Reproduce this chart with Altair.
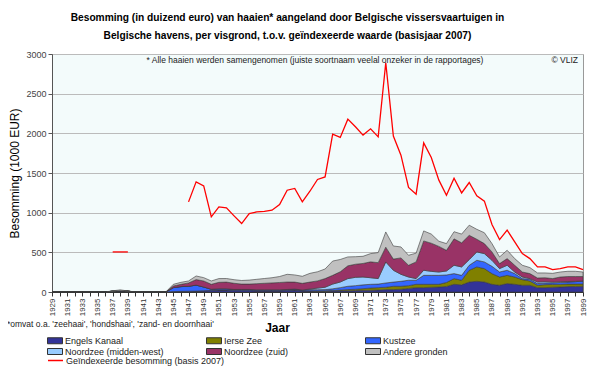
import altair as alt
import pandas as pd

years = list(range(1929, 2000))

categories = ["Engels Kanaal", "Ierse Zee", "Kustzee",
              "Noordzee (midden-west)", "Noordzee (zuid)", "Andere gronden"]
colors = ["#333399", "#808000", "#3366FF", "#99CCFF", "#993366", "#C0C0C0"]

engels_kanaal = [0] * 8 + [10, 15, 10] + [0] * 5 + [
    5, 8, 10, 12, 15, 20, 25, 25, 20, 20, 20, 15, 15, 15, 15, 20, 25, 15, 12, 10, 10,
    12, 15, 15, 18, 21, 22, 25, 30, 30, 35, 45, 55, 55, 60, 63, 70, 97, 90, 126, 135,
    126, 97, 85, 106, 97, 85, 85, 55, 55, 60, 63, 68, 70, 72]
ierse_zee = [0] * 16 + [0] * 18 + [3, 4, 5] + [
    8, 10, 15, 17, 21, 28, 30, 30, 42, 37, 35, 42, 42, 37, 34, 50, 72, 58, 148, 181,
    169, 135, 104, 104, 92, 71, 54, 30, 38, 35, 34, 32, 30, 29]
kustzee = [0] * 16 + [
    50, 60, 62, 75, 48, 15, 15, 15, 12, 12, 12, 12, 12, 12, 12, 12, 12, 10, 15, 15, 15,
    20, 30, 42, 45, 48, 47, 45, 54, 53, 63, 68, 51, 113, 113, 113, 95, 63, 62, 63, 84,
    84, 92, 63, 64, 43, 13, 21, 21, 21, 20, 23, 25, 30, 38]
noordzee_mw = [0] * 16 + [0] * 18 + [8, 20, 30] + [
    60, 71, 97, 105, 99, 83, 69, 265, 149, 88, 41, 21, 64, 50, 42, 50, 105, 106, 71, 105,
    105, 76, 43, 63, 20, 20, 9, 20, 16, 10, 10, 7, 5, 1]
noordzee_zuid = [0] * 16 + [
    21, 29, 42, 69, 76, 62, 82, 85, 78, 68, 68, 78, 83, 88, 93, 94, 88, 84, 87, 91, 109,
    110, 129, 161, 165, 171, 200, 201, 186, 141, 207, 148, 210, 370, 355, 323, 260, 333, 304, 307, 160,
    126, 105, 63, 84, 85, 63, 63, 51, 50, 44, 59, 63, 60, 55]
andere_gronden = [0] * 8 + [5, 12, 3] + [0] * 5 + [
    21, 25, 25, 46, 42, 42, 47, 45, 45, 45, 50, 55, 60, 65, 75, 97, 90, 89, 110, 115, 121,
    180, 155, 112, 95, 90, 104, 127, 192, 165, 138, 126, 111, 126, 115, 65, 85, 90, 110, 127, 125,
    137, 105, 84, 105, 84, 85, 76, 63, 60, 66, 63, 66, 66, 57]

series = [engels_kanaal, ierse_zee, kustzee, noordzee_mw, noordzee_zuid, andere_gronden]

red_label = "Geïndexeerde besomming (basis 2007)"
red_years_a = [1937, 1938, 1939]
red_vals_a = [505, 505, 505]
red_years_b = list(range(1947, 2000))
red_vals_b = [1136, 1388, 1338, 947, 1073, 1060, 960, 863, 989, 1010,
              1015, 1031, 1103, 1283, 1305, 1136, 1270, 1418, 1451, 1990,
              1948, 2179, 2083, 1978, 2057, 1956, 2890, 1965, 1725, 1317,
              1233, 1880, 1696, 1410, 1220, 1435, 1249, 1380, 1212, 1145,
              850, 661, 779, 631, 485, 421, 316, 316, 283, 295,
              316, 316, 283]

y_ticks = [0, 500, 1000, 1500, 2000, 2500, 3000]

title_lines = ["Besomming (in duizend euro) van haaien* aangeland door Belgische vissersvaartuigen in",
               "Belgische havens, per visgrond, t.o.v. geïndexeerde waarde (basisjaar 2007)"]
note_top = "* Alle haaien werden samengenomen (juiste soortnaam veelal onzeker in de rapportages)"
note_copy = "© VLIZ"
note_foot = "*omvat o.a. 'zeehaai', 'hondshaai', 'zand- en doornhaai'"

rows = []
for k, (cat, vals) in enumerate(zip(categories, series)):
    for y, v in zip(years, vals):
        rows.append({"Jaar": y, "cat": cat, "val": v, "ord": k})
df = pd.DataFrame(rows)

red_rows = [{"Jaar": y, "val": v, "seg": "a", "serie": red_label} for y, v in zip(red_years_a, red_vals_a)]
red_rows += [{"Jaar": y, "val": v, "seg": "b", "serie": red_label} for y, v in zip(red_years_b, red_vals_b)]
df_red = pd.DataFrame(red_rows)

FONT = "Liberation Sans"

xscale = alt.Scale(domain=[1929, 1999], nice=False, zero=False)
yscale = alt.Scale(domain=[0, 3000], nice=False)

xaxis = alt.Axis(values=years, format="d",
                 labelExpr="datum.value % 2 == 1 ? datum.label : ''",
                 labelAngle=270, labelFontSize=8, labelOverlap=False, labelFlush=False,
                 labelPadding=2, labelColor="#333333", labelBound=False,
                 tickSize=4, tickColor="#333333", domainColor="#333333",
                 grid=False, title="Jaar", titleFontSize=12, titleFontWeight="bold",
                 titleX=225, titleY=35, titleBaseline="middle", titleColor="#000000")
yaxis = alt.Axis(values=y_ticks, format="d", labelOverlap=False, labelFlush=False,
                 labelFontSize=9, labelColor="#444444", tickSize=4,
                 tickColor="#555555", domainColor="#555555",
                 gridColor="#BBBBBB", gridWidth=1,
                 title="Besomming (1000 EUR)", titleFontSize=12, titleFontWeight="normal",
                 titleColor="#000000", titlePadding=4)

areas = alt.Chart(df).mark_area(stroke="#3a3a3a", strokeWidth=0.6, interpolate="linear").encode(
    x=alt.X("Jaar:Q", scale=xscale, axis=xaxis),
    y=alt.Y("sum(val):Q", stack="zero", scale=yscale, axis=yaxis),
    fill=alt.Fill("cat:N", sort=categories,
                  scale=alt.Scale(domain=categories, range=colors),
                  legend=alt.Legend(orient="none", legendX=-2.5, legendY=281, columns=3,
                                    title=None, direction="horizontal",
                                    symbolType="M-1.5,-0.6H1.5V0.6H-1.5Z", symbolSize=100,
                                    symbolStrokeColor="#333333", symbolStrokeWidth=1,
                                    symbolOpacity=1,
                                    labelFont=FONT, labelFontSize=9, labelColor="#222222",
                                    labelOffset=4.5, columnPadding=40, rowPadding=0,
                                    gridAlign="all", labelLimit=200)),
    order=alt.Order("ord:Q", sort="ascending"),
)

line = alt.Chart(df_red).mark_line(strokeWidth=1.3).encode(
    x=alt.X("Jaar:Q", scale=xscale, axis=xaxis),
    y=alt.Y("val:Q", scale=yscale, axis=yaxis),
    detail="seg:N",
    stroke=alt.Stroke("serie:N", scale=alt.Scale(domain=[red_label], range=["#FF0000"]),
                      legend=alt.Legend(orient="none", legendX=-5, legendY=298, title=None,
                                        symbolType="stroke", symbolSize=225,
                                        symbolStrokeWidth=1.5,
                                        labelFont=FONT, labelFontSize=9, labelColor="#222222",
                                        labelOffset=2, labelLimit=300)),
)

t_top = alt.Chart(pd.DataFrame({"t": [note_top]})).mark_text(
    fontSize=8.5, font=FONT, color="#222222", align="center", baseline="middle").encode(
    x=alt.value(263), y=alt.value(6), text="t:N")
t_copy = alt.Chart(pd.DataFrame({"t": [note_copy]})).mark_text(
    fontSize=8.5, font=FONT, color="#222222", align="right", baseline="middle").encode(
    x=alt.value(526), y=alt.value(6), text="t:N")
t_foot = alt.Chart(pd.DataFrame({"t": [note_foot]})).mark_text(
    fontSize=8.5, font=FONT, color="#222222", align="left", baseline="middle").encode(
    x=alt.value(-45), y=alt.value(270), text="t:N")

chart = alt.layer(areas, line, t_top, t_copy, t_foot).properties(
    width=531, height=238,
    title=alt.TitleParams(title_lines, fontSize=10.2, font=FONT, fontWeight="bold",
                          anchor="middle", dx=-30, offset=9, lineHeight=18, color="#000000"),
    padding={"left": 44, "top": 46, "right": 9, "bottom": 76},
    autosize=alt.AutoSizeParams(type="none"),
).configure(font=FONT).configure_view(fill="#F3FBFB", stroke="#999999", strokeWidth=1)

chart.save("out.html", embed_options={"renderer": "svg", "actions": False})
